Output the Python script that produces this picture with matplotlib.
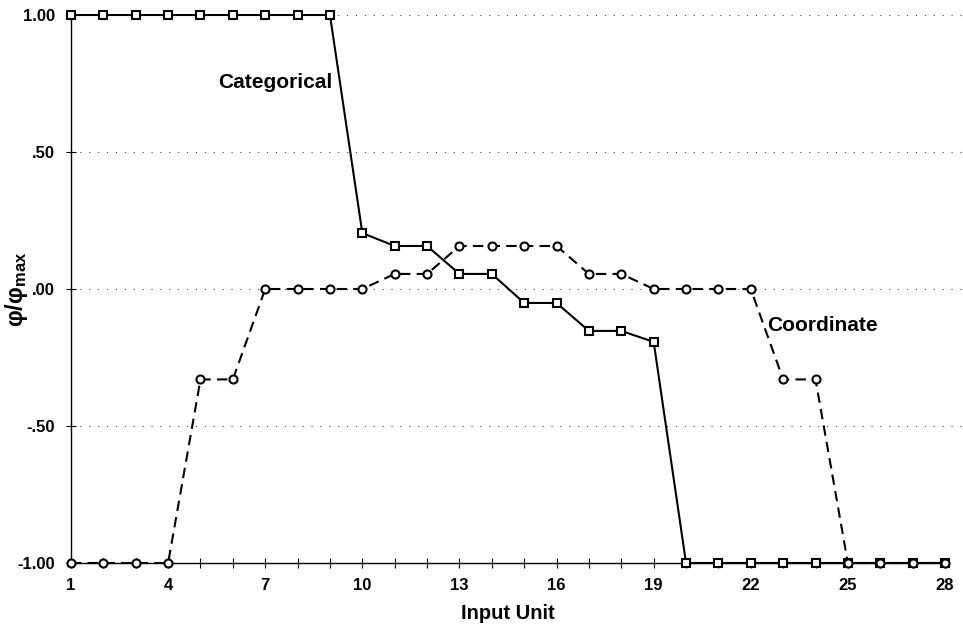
import numpy as np
import matplotlib
matplotlib.use('Agg')
import matplotlib.pyplot as plt
from matplotlib.ticker import MultipleLocator, FixedLocator

plt.rcParams['font.family'] = ['Liberation Sans', 'DejaVu Sans']
plt.rcParams['mathtext.fontset'] = 'custom'
plt.rcParams['mathtext.rm'] = 'Liberation Sans:bold'
plt.rcParams['mathtext.it'] = 'Liberation Sans:bold'
plt.rcParams['mathtext.bf'] = 'Liberation Sans:bold'

# data
units = list(range(1, 29))
categorical = [1.0] * 9 + [0.204, 0.157, 0.157, 0.055, 0.055, -0.051, -0.051,
                           -0.153, -0.153, -0.193] + [-1.0] * 9
coordinate = [-1.0] * 4 + [-0.33, -0.33, 0.0, 0.0, 0.0, 0.0, 0.055, 0.055,
                           0.157, 0.157, 0.157, 0.157, 0.055, 0.055,
                           0.0, 0.0, 0.0, 0.0, -0.33, -0.33] + [-1.0] * 4
xtick_vals = [1, 4, 7, 10, 13, 16, 19, 22, 25, 28]
ytick_vals = [1.0, 0.5, 0.0, -0.5, -1.0]
ytick_labels = ['1.00', '.50', '.00', '-.50', '-1.00']

fig = plt.figure(figsize=(9.63, 6.29), dpi=100)
ax = fig.add_axes([71/963, 1-563/629, (945-71)/963, (563-15)/629])

for y in ytick_vals[:-1]:
  ax.axhline(y, xmax=1.02, color='#444444', lw=0.8, ls=(0, (1, 7)), zorder=0,
             clip_on=False)

ax.plot(units, categorical, '-', color='black', lw=1.5, marker='s', ms=6.3,
        mfc='white', mec='black', mew=1.5, clip_on=False, zorder=3)
ax.plot(units, coordinate, '--', color='black', lw=1.5, dashes=(5, 3),
        marker='o', ms=5.8, mfc='white', mec='black', mew=1.5,
        clip_on=False, zorder=3)

ax.text(5.54, 0.755, 'Categorical', fontsize=15, fontweight='bold', va='center')
ax.text(22.5, -0.135, 'Coordinate', fontsize=15, fontweight='bold', va='center')

ax.set_xlim(1, 28)
ax.set_ylim(-1, 1)
for s in ['top', 'right']:
  ax.spines[s].set_visible(False)
ax.spines['left'].set_linewidth(1.0)
ax.spines['bottom'].set_linewidth(1.0)
ax.xaxis.set_major_locator(FixedLocator(xtick_vals))
ax.xaxis.set_minor_locator(MultipleLocator(1))
ax.set_yticks(ytick_vals)
ax.set_yticklabels(ytick_labels)
ax.tick_params(axis='x', which='both', direction='inout', length=7, width=0.8, pad=7,
               labelsize=12)
ax.tick_params(axis='y', direction='inout', length=7, width=0.8, pad=8, labelsize=12)
for lab in ax.get_xticklabels() + ax.get_yticklabels():
  lab.set_fontweight('bold')

ax.set_xlabel('Input Unit', fontsize=14.5, fontweight='bold', labelpad=8)
ax.set_ylabel(r'$\varphi/\varphi_{max}$', fontsize=17)
ax.yaxis.set_label_coords(-0.047, 0.5)

fig.savefig('out.png', dpi=100)
